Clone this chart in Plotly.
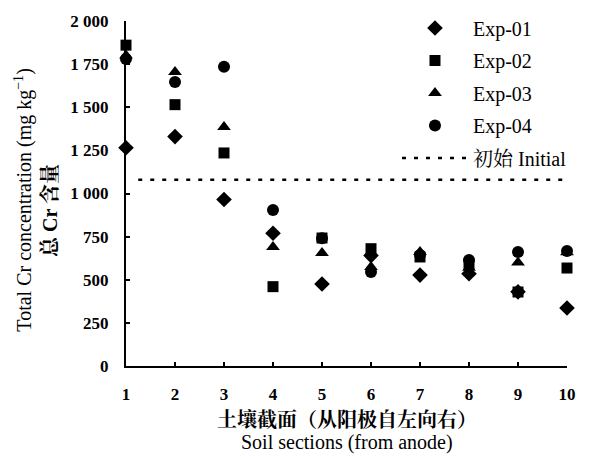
import plotly.graph_objects as go

sections = [1, 2, 3, 4, 5, 6, 7, 8, 9, 10]
exp01 = [1265, 1330, 965, 770, 475, 640, 527, 535, 430, 336]
exp02 = [1860, 1515, 1235, 460, 742, 680, 632, 590, 429, 568]
exp03 = [1800, 1705, 1385, 690, 655, 574, 661, 570, 600, 660]
exp04 = [1780, 1646, 1735, 905, 740, 545, 643, 614, 661, 667]
initial_x = [1.25, 10]
initial_y = [1080, 1080]

y_ticks = [0, 250, 500, 750, 1000, 1250, 1500, 1750, 2000]
y_ticktext = ["0", "250", "500", "750", "1 000", "1 250", "1 500", "1 750", "2 000"]

SERIF = "Liberation Serif, Times New Roman, Noto Serif CJK SC, Noto Sans CJK SC, serif"

fig = go.Figure()
series = [
    ("Exp-01", exp01, "diamond", 12),
    ("Exp-02", exp02, "square", 11),
    ("Exp-03", exp03, "triangle-up", 12),
    ("Exp-04", exp04, "circle", 12),
]
for name, vals, sym, sz in series:
    fig.add_trace(go.Scatter(
        x=sections, y=vals, mode="markers", name=name,
        marker=dict(symbol=sym, size=sz, color="black"),
        cliponaxis=False, legendgroup=name,
    ))
fig.add_trace(go.Scatter(
    x=initial_x, y=initial_y, mode="lines", name="初始 Initial",
    line=dict(color="black", width=2.5, dash="4px,8px"),
    legendgroup="init",
))

fig.update_layout(
    width=608, height=449,
    margin=dict(l=118, r=49, t=13, b=91, autoexpand=False),
    paper_bgcolor="white", plot_bgcolor="white",
    font=dict(family=SERIF, size=17, color="black"),
    showlegend=True,
    legend=dict(
        x=0.6145, y=1.0362, xanchor="left", yanchor="top",
        bgcolor="rgba(0,0,0,0)", font=dict(size=20),
        tracegroupgap=3.5, itemwidth=66,
    ),
)
fig.update_xaxes(
    range=[1, 10], tickvals=sections, ticktext=[str(s) for s in sections],
    showline=True, linecolor="black", linewidth=2,
    ticks="inside", ticklen=4, tickwidth=2, tickcolor="black",
    showgrid=False, zeroline=False,
    tickfont=dict(family=SERIF, size=17, weight="bold"),
    ticklabelstandoff=12,
)
fig.update_yaxes(
    range=[0, 2000], tickvals=y_ticks, ticktext=y_ticktext,
    showline=True, linecolor="black", linewidth=2,
    ticks="inside", ticklen=4, tickwidth=2, tickcolor="black",
    showgrid=False, zeroline=False,
    tickfont=dict(family=SERIF, size=17, weight="bold"),
    ticklabelstandoff=12,
)

fig.add_annotation(xref="paper", yref="paper", x=0.5, y=-0.1565,
                   text="土壤截面（从阳极自左向右）", showarrow=False,
                   font=dict(size=20, family=SERIF, weight="bold"), yanchor="middle")
fig.add_annotation(xref="paper", yref="paper", x=0.5, y=-0.2203,
                   text="Soil sections (from anode)", showarrow=False,
                   font=dict(size=20, family=SERIF), yanchor="middle")
fig.add_annotation(xref="paper", yref="paper", x=-0.233, y=0.48,
                   text="Total Cr concentration (mg kg<sup>−1</sup>)", showarrow=False,
                   textangle=-90, font=dict(size=20, family=SERIF),
                   xanchor="center", yanchor="middle")
fig.add_annotation(xref="paper", yref="paper", x=-0.172, y=0.45,
                   text="总 Cr 含量", showarrow=False,
                   textangle=-90, font=dict(size=20, family=SERIF, weight="bold"),
                   xanchor="center", yanchor="middle")

fig.write_html("out.html")
